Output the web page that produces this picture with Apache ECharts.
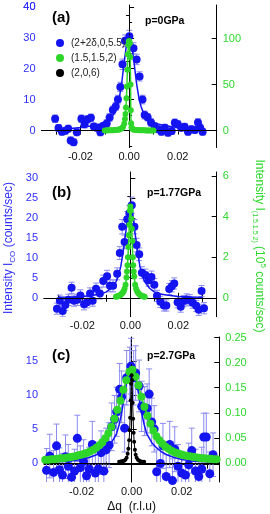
<!DOCTYPE html>
<html><head><meta charset="utf-8">
<script src="https://cdn.jsdelivr.net/npm/echarts@6/dist/echarts.min.js"></script>
<style>html,body{margin:0;padding:0;background:#fff}#c{width:270px;height:514px}</style>
</head><body><div id="c"></div>
<script>
// ---------------- data ----------------
const xTicks = [-0.02, 0, 0.02];
const xMinor = [-0.03, -0.01, 0.01, 0.03];
const aLeftTicks = [0, 10, 20, 30, 40];
const aLeftMinor = [-5, 5, 15, 25, 35];
const aRightTicks = [0, 50, 100];
const aRightMinor = [25, 75, 125];
const bLeftTicks = [0, 5, 10, 15, 20, 25, 30];
const bRightTicks = [0, 2, 4, 6];
const bRightMinor = [1, 3, 5];
const cLeftTicks = [0, 5, 10, 15];
const cRightTicks = [0, 0.05, 0.10, 0.15, 0.20, 0.25];

const seriesNames = ['(2+2δ,0,5.5)', '(1.5,1.5,2)', '(2,0,6)'];

// panel (a) p=0GPa
const aBlueQ = [-0.0304,-0.0290,-0.0276,-0.0262,-0.0250,-0.0240,-0.0228,-0.0215,-0.0196,-0.0183,-0.0170,-0.0157,-0.0145,-0.0132,-0.0118,-0.0105,-0.0092,-0.0080,-0.0067,-0.0055,-0.0046,-0.0036,-0.0027,-0.0017,0.0001,0.0018,0.0031,0.0043,0.0055,0.0064,0.0076,0.0090,0.0105,0.0120,0.0133,0.0147,0.0160,0.0175,0.0188,0.0200,0.0214,0.0228,0.0242,0.0256,0.0270,0.0283,0.0292,0.0302];
const aBlueV = [3.8,0.8,-0.4,-0.1,0.6,-3.2,-3.8,-0.6,3.8,2.0,3.6,4.1,1.3,0.9,-0.6,1.5,2.3,4.2,6.6,7.8,10.0,14.1,21.4,29.0,30.5,26.6,23.0,17.5,10.0,5.0,4.3,2.6,1.3,0.4,-0.4,0.9,-0.7,-0.2,2.5,2.0,0.9,1.2,-0.4,0.4,0.2,2.6,0.9,-0.4];
const aBlueErr = [1.2,1.1,1.1,1.1,1.1,1.1,1.1,1.1,1.2,1.2,1.2,1.2,1.1,1.1,1.1,1.1,1.2,1.2,1.3,1.3,1.4,1.5,1.7,1.9,1.9,1.8,1.7,1.5,1.4,1.3,1.2,1.2,1.1,1.1,1.1,1.1,1.1,1.1,1.2,1.2,1.1,1.1,1.1,1.1,1.1,1.2,1.1,1.1];
const aBlueFitQ = [-0.030,-0.025,-0.020,-0.015,-0.012,-0.010,-0.008,-0.006,-0.005,-0.004,-0.003,-0.002,-0.001,0,0.001,0.002,0.003,0.004,0.005,0.006,0.008,0.010,0.012,0.015,0.020,0.025,0.030];
const aBlueFitV = [0.4,0.6,1.0,1.5,2.1,2.7,3.7,5.6,7.5,10.6,15.6,22.2,28.2,30.5,28.2,22.2,15.6,10.6,7.5,5.6,3.7,2.7,2.1,1.5,1.0,0.6,0.4];
const aGreenQ = [-0.0100,-0.0094,-0.0088,-0.0082,-0.0076,-0.0070,-0.0064,-0.0058,-0.0052,-0.0046,-0.0040,-0.0035,-0.0030,-0.0025,-0.0020,-0.0017,-0.0015,-0.0013,-0.0011,-0.0009,-0.0007,-0.0005,-0.0003,-0.0001,0.0001,0.0003,0.0005,0.0006,0.0007,0.0008,0.0010,0.0013,0.0017,0.0022,0.0028,0.0034,0.0040,0.0046,0.0052,0.0058,0.0064,0.0070,0.0076,0.0082,0.0088,0.0094,0.0100];
const aGreenV = [0.2,0.2,0.3,0.3,0.3,0.4,0.4,0.5,0.6,0.8,1.2,1.8,2.6,4.0,7.5,12.5,18,25,35,48,66,83,93,97,97,95,80,50,22,8,3.5,2.0,1.3,0.9,0.6,0.5,0.4,0.4,0.3,0.3,0.3,0.2,0.2,0.2,0.2,0.2,0.2];

// panel (b) p=1.77GPa
const bBlueQ = [-0.0306,-0.0294,-0.0282,-0.0271,-0.0258,-0.0245,-0.0235,-0.0221,-0.0208,-0.0193,-0.0180,-0.0168,-0.0157,-0.0143,-0.0127,-0.0113,-0.0097,-0.0085,-0.0072,-0.0055,-0.0044,-0.0034,-0.0024,-0.0013,-0.0004,0.0006,0.0017,0.0026,0.0037,0.0048,0.0063,0.0076,0.0088,0.0100,0.0111,0.0125,0.0140,0.0150,0.0162,0.0173,0.0183,0.0197,0.0210,0.0222,0.0235,0.0248,0.0260,0.0275,0.0285,0.0297,0.0307];
const bBlueV = [-2.7,-0.7,-3.3,-1.8,-0.5,2.5,-0.7,-0.5,0.6,-1.6,-1.1,1.1,-0.7,2.3,1.1,4.2,5.4,3.0,3.0,6.0,11.2,17.8,14.0,19.7,21.2,23.2,17.8,13.2,10.9,6.3,5.7,4.4,5.2,3.3,0.5,-1.0,-1.9,-1.9,2.2,2.9,3.6,-1.1,-2.2,-0.8,-0.4,-0.6,-1.2,-2.0,-3.0,1.7,-2.6];
const bBlueErr = [1.4,1.4,1.4,1.4,1.4,1.4,1.4,1.4,1.4,1.4,1.4,1.4,1.4,1.4,1.4,1.5,1.5,1.5,1.5,1.5,1.6,1.8,1.7,1.9,2.0,2.0,1.8,1.7,1.6,1.5,1.5,1.5,1.5,1.5,1.4,1.4,1.4,1.4,1.4,1.4,1.4,1.4,1.4,1.4,1.4,1.4,1.4,1.4,1.4,1.4,1.4];
const bBlueFitQ = [-0.030,-0.025,-0.020,-0.015,-0.012,-0.010,-0.008,-0.006,-0.005,-0.004,-0.003,-0.002,-0.001,0,0.001,0.002,0.003,0.004,0.005,0.006,0.008,0.010,0.012,0.015,0.020,0.025,0.030];
const bBlueFitV = [0.15,0.2,0.35,0.7,1.0,1.5,2.4,4.0,5.5,7.8,11.5,16.0,21.0,23.2,21.0,16.0,11.5,7.8,5.5,4.0,2.4,1.5,1.0,0.7,0.35,0.2,0.15];
const bGreenQ = [-0.0060,-0.0056,-0.0052,-0.0048,-0.0044,-0.0040,-0.0036,-0.0032,-0.0028,-0.0024,-0.0020,-0.0016,-0.0014,-0.0012,-0.0010,-0.0008,-0.0006,-0.0004,-0.0002,0.0000,0.0002,0.0004,0.0006,0.0008,0.0010,0.0012,0.0014,0.0016,0.0020,0.0024,0.0028,0.0032,0.0036,0.0040,0.0044,0.0048,0.0052,0.0056,0.0060];
const bGreenV = [0.05,0.06,0.08,0.10,0.12,0.15,0.20,0.25,0.33,0.45,0.65,1.0,1.3,1.6,2.0,2.5,3.1,3.6,4.3,4.5,4.3,3.9,3.4,2.8,2.0,1.6,1.3,1.05,0.65,0.45,0.33,0.25,0.20,0.15,0.12,0.10,0.08,0.06,0.05];

// panel (c) p=2.7GPa
const cBlueQ = [-0.0340,-0.0327,-0.0312,-0.0300,-0.0288,-0.0276,-0.0264,-0.0253,-0.0240,-0.0228,-0.0217,-0.0205,-0.0192,-0.0180,-0.0170,-0.0157,-0.0145,-0.0133,-0.0122,-0.0111,-0.0102,-0.0090,-0.0080,-0.0068,-0.0060,-0.0048,-0.0040,-0.0028,-0.0020,-0.0008,-0.0003,0.0008,0.0016,0.0030,0.0040,0.0052,0.0062,0.0070,0.0080,0.0090,0.0100,0.0115,0.0125,0.0138,0.0152,0.0163,0.0172,0.0185,0.0200,0.0215,0.0228,0.0240,0.0255,0.0268,0.0280,0.0288,0.0298,0.0312,0.0325];
const cBlueV = [-1.1,1.0,-1.4,2.5,-1.0,-1.8,0.9,-0.5,-2.1,-1.2,3.6,-0.7,0.2,-1.9,-0.9,2.7,-1.5,-0.9,1.5,-1.2,1.9,2.6,5.3,6.4,7.5,10.8,9.7,5.1,12.5,13.0,14.2,12.5,13.2,11.3,8.3,7.6,8.0,10.1,6.0,5.0,-1.3,-0.1,2.5,-2.0,2.7,-2.6,2.0,-0.5,-1.5,-1.8,-0.3,1.8,-1.2,-2.0,-0.9,3.8,3.8,-1.6,1.2];
const cBlueErr = [3.2,3.2,3.2,3.2,3.2,3.2,3.2,3.2,3.2,3.2,3.4,3.2,3.2,3.2,3.2,3.4,3.2,3.2,3.2,3.2,3.2,3.3,3.5,3.5,3.6,3.8,3.8,3.5,4.0,4.0,4.1,4.0,4.0,3.8,3.7,3.6,3.6,3.7,3.5,3.4,3.2,3.2,3.3,3.2,3.4,3.2,3.3,3.2,3.2,3.2,3.2,3.3,3.2,3.2,3.2,3.5,3.5,3.2,3.2];
const cBlueFitQ = [-0.035,-0.030,-0.025,-0.020,-0.017,-0.014,-0.012,-0.010,-0.008,-0.006,-0.005,-0.004,-0.003,-0.002,-0.001,0,0.001,0.002,0.003,0.004,0.005,0.006,0.008,0.010,0.012,0.014,0.017,0.020,0.025,0.030,0.035];
const cBlueFitV = [0.1,0.15,0.25,0.5,0.8,1.2,1.6,2.2,3.0,4.3,5.6,7.3,9.6,11.9,13.3,13.7,13.3,11.9,9.6,7.3,5.6,4.3,3.0,2.2,1.6,1.2,0.8,0.5,0.25,0.15,0.1];
const cGreenQ = [-0.0345,-0.0333,-0.0321,-0.0309,-0.0297,-0.0285,-0.0273,-0.0261,-0.0249,-0.0237,-0.0225,-0.0213,-0.0201,-0.0189,-0.0177,-0.0165,-0.0153,-0.0141,-0.0129,-0.0117,-0.0105,-0.0093,-0.0081,-0.0069,-0.0057,-0.0045,-0.0033,-0.0021,-0.0009,0.0003,0.0015,0.0027,0.0039,0.0051,0.0063,0.0075,0.0087,0.0099,0.0111,0.0123,0.0135,0.0147,0.0159,0.0171,0.0183,0.0195,0.0207,0.0219,0.0231,0.0243,0.0255,0.0267,0.0279,0.0291,0.0303,0.0315,0.0327,0.0339,0.0351];
const cGreenV = [0.006,0.006,0.007,0.007,0.008,0.009,0.009,0.010,0.011,0.012,0.013,0.015,0.016,0.018,0.020,0.023,0.026,0.030,0.035,0.041,0.049,0.059,0.072,0.088,0.106,0.124,0.146,0.165,0.182,0.186,0.172,0.155,0.132,0.112,0.094,0.078,0.064,0.053,0.045,0.038,0.032,0.028,0.024,0.021,0.019,0.017,0.015,0.014,0.013,0.012,0.011,0.010,0.009,0.009,0.008,0.008,0.007,0.007,0.006];
const cBlackQ = [-0.0050,-0.0045,-0.0040,-0.0035,-0.0030,-0.0025,-0.0020,-0.0016,-0.0013,-0.0010,-0.0008,-0.0006,-0.0004,-0.0002,0.0000,0.0002,0.0004,0.0006,0.0008,0.0010,0.0013,0.0016,0.0020,0.0025,0.0030,0.0035,0.0040,0.0045,0.0050];
const cBlackV = [0.002,0.002,0.003,0.003,0.004,0.006,0.010,0.018,0.028,0.045,0.065,0.090,0.125,0.158,0.175,0.165,0.120,0.088,0.060,0.042,0.026,0.016,0.010,0.006,0.004,0.003,0.002,0.002,0.002];

// ---------------- style ----------------
const FONT = '"Liberation Sans", Arial, Helvetica, sans-serif';
const BLUE = '#1414f0', GREEN = '#2fd62a', BLACK = '#000000', ERR = '#8a8af0';
const BLUE_TXT = '#2f2fff', GREEN_TXT = '#2ed82e';

const zip = (q, v) => q.map((x, i) => [x, v[i]]);

const panels = [
  { grid: {left: 41.5, top: 5, width: 175.2, height: 142.5}, x: [-0.036, 0.036], yl: [-5.5, 40.6], yr: [-18.4, 136.5],
    lT: aLeftTicks, lM: aLeftMinor, rT: aRightTicks, rM: aRightMinor, rFmt: v => String(v), lFmt: v => String(v),
    blue: [aBlueQ, aBlueV, aBlueErr], fit: [aBlueFitQ, aBlueFitV], green: [aGreenQ, aGreenV], gSize: 6, bSize: 8 },
  { grid: {left: 44, top: 172, width: 172.7, height: 144.7}, x: [-0.036, 0.036], yl: [-4.72, 31.5], yr: [-0.93, 6.2],
    lT: bLeftTicks, lM: [], rT: bRightTicks, rM: bRightMinor, rFmt: v => String(v), lFmt: v => String(v),
    blue: [bBlueQ, bBlueV, bBlueErr], fit: [bBlueFitQ, bBlueFitV], green: [bGreenQ, bGreenV], gSize: 6, bSize: 8 },
  { grid: {left: 44, top: 337, width: 175.3, height: 147}, x: [-0.035, 0.035], yl: [-2.81, 18.49], yr: [-0.0382, 0.2512],
    lT: cLeftTicks, lM: [], rT: cRightTicks, rM: [], rFmt: v => v.toFixed(2), lFmt: v => String(v),
    blue: [cBlueQ, cBlueV, cBlueErr], fit: [cBlueFitQ, cBlueFitV], green: [cGreenQ, cGreenV], black: [cBlackQ, cBlackV], gSize: 8, bSize: 9 }
];

const grids = [], xAxes = [], yAxes = [], series = [];
const axisLine = {show: true, lineStyle: {color: '#000', width: 1}};

panels.forEach((p, i) => {
  grids[i] = Object.assign({containLabel: false}, p.grid);
  grids[i + 3] = Object.assign({containLabel: false}, p.grid);
  const xl = {fontSize: 11, color: '#111', fontFamily: FONT, margin: 4, showMinLabel: true, showMaxLabel: true,
              customValues: xTicks, formatter: v => v.toFixed(2)};
  xAxes[i] = {type: 'value', gridIndex: i, position: 'bottom', min: p.x[0], max: p.x[1], axisLine,
    axisTick: {inside: true, length: 5, lineStyle: {color: '#000'}, customValues: xTicks},
    axisLabel: xl, splitLine: {show: false},
    name: i === 2 ? 'Δq  (r.l.u)' : '', nameLocation: 'middle', nameGap: 19,
    nameTextStyle: {fontSize: 12, color: '#111', fontFamily: FONT}};
  xAxes[3 + 2 * i] = {type: 'value', gridIndex: i + 3, position: 'bottom', min: p.x[0], max: p.x[1], axisLine: {show: false},
    axisTick: {inside: true, length: 3, lineStyle: {color: '#000'}, customValues: xMinor},
    axisLabel: {show: false}, splitLine: {show: false}};
  xAxes[4 + 2 * i] = {type: 'value', gridIndex: i + 3, position: 'top', min: p.x[0], max: p.x[1], axisLine,
    axisTick: {inside: true, length: 4, lineStyle: {color: '#000'}, customValues: xTicks.concat(xMinor)},
    axisLabel: {show: false}, splitLine: {show: false}};
  yAxes[2 * i] = {type: 'value', gridIndex: i, position: 'left', min: p.yl[0], max: p.yl[1], axisLine,
    axisTick: {inside: true, length: 5, lineStyle: {color: '#000'}, customValues: p.lT},
    axisLabel: {fontSize: 11, color: BLUE_TXT, fontFamily: FONT, margin: 6, showMinLabel: true, showMaxLabel: true,
      hideOverlap: false, customValues: p.lT, formatter: p.lFmt},
    splitLine: {show: false}};
  yAxes[2 * i + 1] = {type: 'value', gridIndex: i, position: 'right', min: p.yr[0], max: p.yr[1], axisLine,
    axisTick: {inside: true, length: 5, lineStyle: {color: '#000'}, customValues: p.rT},
    axisLabel: {fontSize: 11, color: GREEN_TXT, fontFamily: FONT, margin: 6, showMinLabel: true, showMaxLabel: true,
      hideOverlap: false, customValues: p.rT, formatter: p.rFmt},
    splitLine: {show: false}};
  yAxes[6 + 2 * i] = {type: 'value', gridIndex: i + 3, position: 'left', min: p.yl[0], max: p.yl[1], axisLine: {show: false},
    axisTick: {show: p.lM.length > 0, inside: true, length: 3, lineStyle: {color: '#000'}, customValues: p.lM.length ? p.lM : [0]},
    axisLabel: {show: false}, splitLine: {show: false}};
  yAxes[7 + 2 * i] = {type: 'value', gridIndex: i + 3, position: 'right', min: p.yr[0], max: p.yr[1], axisLine: {show: false},
    axisTick: {show: p.rM.length > 0, inside: true, length: 3, lineStyle: {color: '#000'}, customValues: p.rM.length ? p.rM : [0]},
    axisLabel: {show: false}, splitLine: {show: false}};

  const [bq, bv, be] = p.blue;
  series.push({type: 'custom', xAxisIndex: i, yAxisIndex: 2 * i, clip: true, silent: true, z: 1,
    data: bq.map((x, k) => [x, bv[k] - be[k], bv[k] + be[k]]),
    renderItem: (params, api) => {
      const x = api.value(0);
      const lo = api.coord([x, api.value(1)]);
      const hi = api.coord([x, api.value(2)]);
      const w = 3;
      const st = {stroke: ERR, lineWidth: 1};
      return {type: 'group', children: [
        {type: 'line', shape: {x1: lo[0], y1: lo[1], x2: hi[0], y2: hi[1]}, style: st},
        {type: 'line', shape: {x1: lo[0] - w, y1: lo[1], x2: lo[0] + w, y2: lo[1]}, style: st},
        {type: 'line', shape: {x1: hi[0] - w, y1: hi[1], x2: hi[0] + w, y2: hi[1]}, style: st}
      ]};
    }});
  series.push({type: 'scatter', name: seriesNames[0], xAxisIndex: i, yAxisIndex: 2 * i, z: 3,
    symbolSize: p.bSize, itemStyle: {color: BLUE, opacity: 1}, data: zip(bq, bv),
    markLine: {silent: true, symbol: ['none', 'none'], label: {show: false}, animation: false,
      data: [
        {yAxis: 0, lineStyle: {color: '#000', width: 1, type: 'solid'}},
        {xAxis: 0, lineStyle: {color: '#000', width: 1, type: [2, 2]}}
      ]}});
  series.push({type: 'line', xAxisIndex: i, yAxisIndex: 2 * i, z: 4, showSymbol: false,
    lineStyle: {color: BLUE, width: 1.5}, itemStyle: {color: BLUE}, data: zip(p.fit[0], p.fit[1])});
  series.push({type: 'line', name: seriesNames[1], xAxisIndex: i, yAxisIndex: 2 * i + 1, z: 5,
    symbol: 'circle', symbolSize: p.gSize, showSymbol: true,
    lineStyle: {color: GREEN, width: 1.5}, itemStyle: {color: GREEN}, data: zip(p.green[0], p.green[1])});
  if (p.black) {
    series.push({type: 'line', name: seriesNames[2], xAxisIndex: i, yAxisIndex: 2 * i + 1, z: 6,
      symbol: 'circle', symbolSize: 4, showSymbol: true,
      lineStyle: {color: BLACK, width: 1}, itemStyle: {color: BLACK}, data: zip(p.black[0], p.black[1])});
  }
});

const bold = s => `bold ${s}px ${FONT}`;
const graphic = [
  {type: 'text', x: 52, y: 18, style: {text: '(a)', font: bold(15), fill: '#000', textVerticalAlign: 'middle'}},
  {type: 'text', x: 52, y: 193, style: {text: '(b)', font: bold(15), fill: '#000', textVerticalAlign: 'middle'}},
  {type: 'text', x: 52, y: 356, style: {text: '(c)', font: bold(15), fill: '#000', textVerticalAlign: 'middle'}},
  {type: 'text', x: 145, y: 21, style: {text: 'p=0GPa', font: bold(10.5), fill: '#000', textVerticalAlign: 'middle'}},
  {type: 'text', x: 147, y: 193, style: {text: 'p=1.77GPa', font: bold(10.5), fill: '#000', textVerticalAlign: 'middle'}},
  {type: 'text', x: 147, y: 356, style: {text: 'p=2.7GPa', font: bold(10.5), fill: '#000', textVerticalAlign: 'middle'}},
  {type: 'text', x: 9, y: 248, rotation: Math.PI / 2,
    style: {text: 'Intensity I{s|CO} (counts/sec)', fill: BLUE_TXT, fontSize: 12, fontFamily: FONT, lineHeight: 16,
      textAlign: 'center', textVerticalAlign: 'middle',
      rich: {s: {fontSize: 8, lineHeight: 9, verticalAlign: 'bottom', fill: BLUE_TXT, fontFamily: FONT}}}},
  {type: 'text', x: 259, y: 246, rotation: -Math.PI / 2,
    style: {text: 'Intensity I{s|(1.5 1.5 2)} (10{p|5} counts/sec)', fill: GREEN_TXT, fontSize: 12, fontFamily: FONT, lineHeight: 16,
      textAlign: 'center', textVerticalAlign: 'middle',
      rich: {s: {fontSize: 7, lineHeight: 8, verticalAlign: 'bottom', fill: GREEN_TXT, fontFamily: FONT},
             p: {fontSize: 8, lineHeight: 9, verticalAlign: 'top', fill: GREEN_TXT, fontFamily: FONT}}}}
];

const chart = echarts.init(document.getElementById('c'), null, {renderer: 'canvas'});
chart.setOption({
  animation: false,
  backgroundColor: '#fff',
  textStyle: {fontFamily: FONT},
  grid: grids, xAxis: xAxes, yAxis: yAxes, series,
  legend: {data: seriesNames, orient: 'vertical', left: 51, top: 33, icon: 'circle', itemWidth: 12, itemHeight: 8,
    itemGap: 5, selectedMode: false, textStyle: {fontSize: 10, color: '#222', fontFamily: FONT}},
  graphic
});

// the top tick label of panel (a) is dropped by the axis at the canvas edge; place it from the axis scale
const topVal = aLeftTicks[aLeftTicks.length - 1];
const ty = chart.convertToPixel({yAxisIndex: 0}, topVal);
const tx = chart.convertToPixel({xAxisIndex: 0}, panels[0].x[0]);
chart.setOption({graphic: graphic.concat([
  {type: 'text', x: tx - 6, y: ty, style: {text: String(topVal), fill: BLUE_TXT, fontSize: 11, fontFamily: FONT,
    textAlign: 'right', textVerticalAlign: 'middle'}}
])});
</script></body></html>
